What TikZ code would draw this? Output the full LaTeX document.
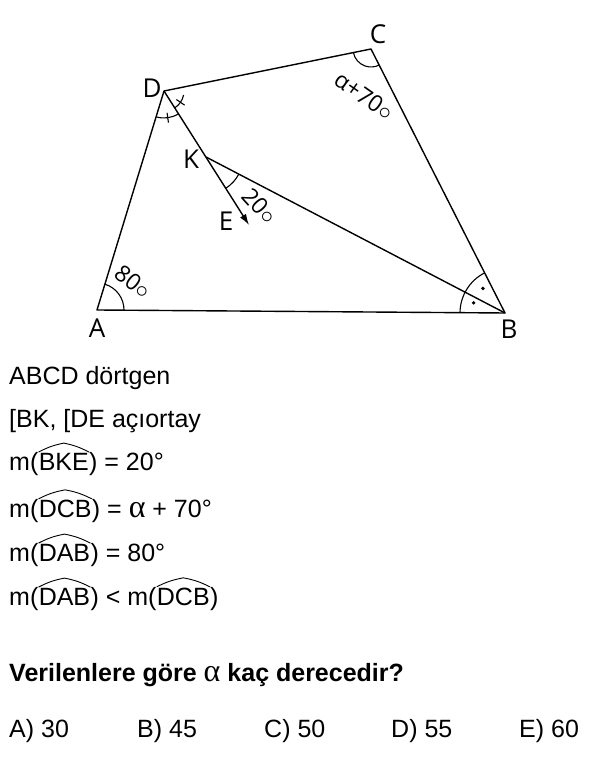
\documentclass[tikz,border=0pt]{standalone}
\usepackage{fontspec}
\setmainfont{Liberation Sans}
\newfontfamily\labfont{Open Sans}
\newfontfamily\grk{Liberation Serif}
\newcommand\galpha{{\grk\mdseries\fontsize{32}{32}\selectfont α}}
\usetikzlibrary{arrows.meta,calc}
\begin{document}
\begin{tikzpicture}[x=1pt,y=1pt,
  edge/.style={line width=1.4pt, line join=round},
  anglearc/.style={line width=1.1pt},
  vlabel/.style={font=\labfont\fontsize{26}{26}\selectfont, inner sep=0pt},
  alabel/.style={font=\labfont\fontsize{23}{23}\selectfont, inner sep=0pt},
  txt/.style={font=\fontsize{25}{25}\selectfont, inner sep=0pt, anchor=base west},
  boldtxt/.style={txt, font=\bfseries\fontsize{25}{25}\selectfont},
  hatline/.style={line width=0.9pt},
  dotmark/.style={circle, fill=black, inner sep=0pt, minimum size=3.8pt},
]
\useasboundingbox (0,0) rectangle (599,758);
\fill[white] (0,0) rectangle (599,758);

% vertices
\coordinate (A) at (97,448);
\coordinate (B) at (505,445);
\coordinate (C) at (371,709);
\coordinate (D) at (164,667);
\coordinate (K) at (206,601);
\coordinate (E) at (249,533);

% sides and bisectors
\draw[edge] (A) -- (B) -- (C) -- (D) -- cycle;
\draw[edge] (K) -- (B);
\draw[edge, -{Latex[length=11pt,width=7pt]}] (D) -- (E);

% angle marks
\draw[anglearc] ([shift={(-0.4:27pt)}]A) arc[start angle=-0.4, end angle=73, radius=27pt];
\draw[anglearc] ([shift={(191.5:18pt)}]C) arc[start angle=191.5, end angle=296.9, radius=18pt];
\draw[anglearc] ([shift={(-11.5:20pt)}]D) arc[start angle=-11.5, end angle=-57.5, radius=20pt];
\draw[anglearc] ([shift={(-57.5:27pt)}]D) arc[start angle=-57.5, end angle=-107, radius=27pt];
\draw[anglearc] ([shift={(-34.5:15pt)}]D) -- ([shift={(-34.5:25pt)}]D);
\draw[anglearc] ([shift={(-82:22pt)}]D) -- ([shift={(-82:32pt)}]D);
\draw[anglearc] ([shift={(-57.7:37pt)}]K) arc[start angle=-57.7, end angle=-27.6, radius=37pt];
\draw[anglearc] ([shift={(179.6:45pt)}]B) arc[start angle=179.6, end angle=116.9, radius=45pt];
\node[dotmark] (d1) at ([shift={(162:33pt)}]B) {};
\node[dotmark] (d2) at ([shift={(132:33pt)}]B) {};

% vertex labels
\node[vlabel] (lA) at (97,430) {A};
\node[vlabel] (lB) at (509,429) {B};
\node[vlabel] (lC) at (378,724) {C};
\node[vlabel] (lD) at (152,670) {D};
\node[vlabel] (lK) at (191,599) {K};
\node[vlabel] (lE) at (226,537) {E};

% angle labels
\node[alabel, rotate=-35] (a70) at (364,662) {α+70\ensuremath{\circ}};
\node[alabel, rotate=-48] (a20) at (260,552) {20\ensuremath{\circ}};
\node[alabel, rotate=-38] (a80) at (133,476) {80\ensuremath{\circ}};

% text
\node[txt] (t1) at (9,373) {ABCD dörtgen};
\node[txt] (t2) at (9,330) {[BK, [DE açıortay};
\node[txt] (t3a) at (9,287) {m(};
\node[txt] (t3b) at (t3a.base east) {BKE};
\node[txt] (t3c) at (t3b.base east) {) = 20°};
\node[txt] (t4a) at (9,240) {m(};
\node[txt] (t4b) at (t4a.base east) {DCB};
\node[txt] (t4c) at (t4b.base east) {) = \galpha{} + 70°};
\node[txt] (t5a) at (9,196) {m(};
\node[txt] (t5b) at (t5a.base east) {DAB};
\node[txt] (t5c) at (t5b.base east) {) = 80°};
\node[txt] (t6a) at (9,152) {m(};
\node[txt] (t6b) at (t6a.base east) {DAB};
\node[txt] (t6c) at (t6b.base east) {) < m(};
\node[txt] (t6d) at (t6c.base east) {DCB};
\node[txt] (t6e) at (t6d.base east) {)};
\foreach \n in {t3b,t4b,t5b,t6b,t6d}{
  \draw[hatline] ($(\n.north west)+(0,1.5)$) to[bend left=8] ($(\n.north)+(0,10.5)$) to[bend left=8] ($(\n.north east)+(0,1.5)$);
}
\node[boldtxt] (q) at (9,76) {Verilenlere göre \galpha{} kaç derecedir?};
\node[txt] (oA) at (9,20) {A) 30};
\node[txt] (oB) at (137,20) {B) 45};
\node[txt] (oC) at (264,20) {C) 50};
\node[txt] (oD) at (391,20) {D) 55};
\node[txt] (oE) at (519,20) {E) 60};
\end{tikzpicture}
\end{document}
